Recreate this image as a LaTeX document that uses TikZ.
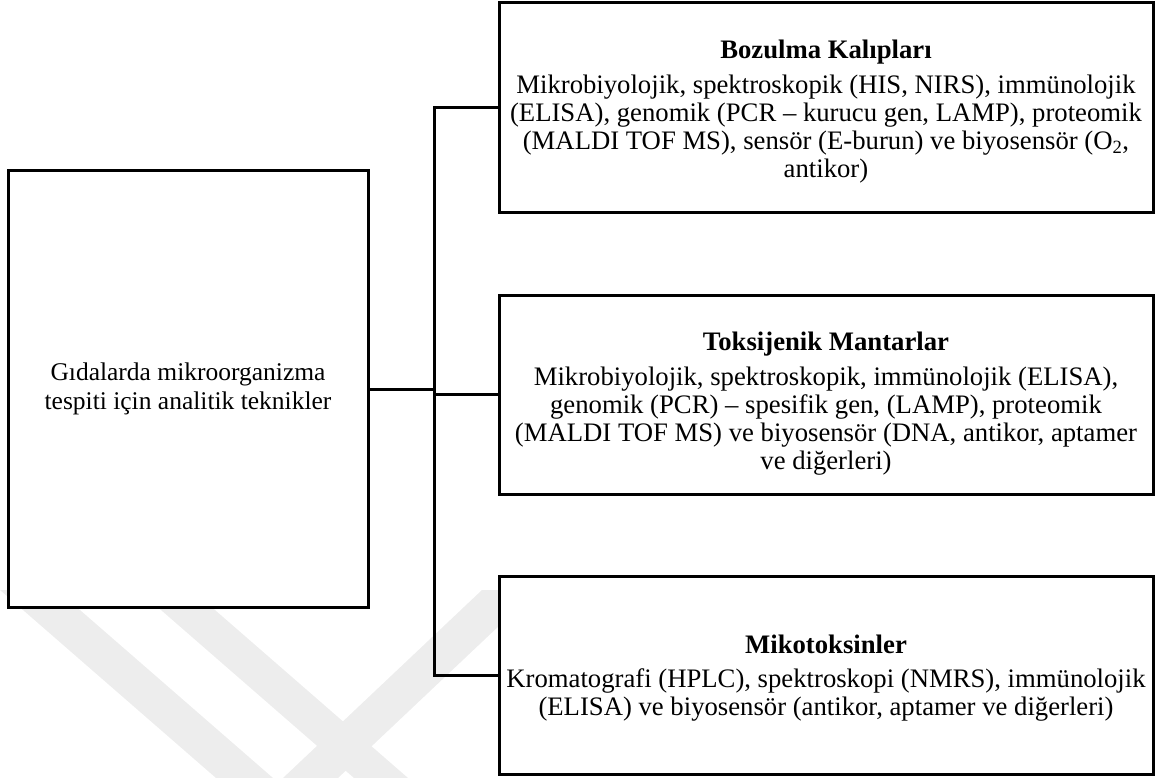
\documentclass[tikz,border=0pt]{standalone}
\usepackage{fontspec}
\setmainfont{Liberation Serif}
\begin{document}
\begin{tikzpicture}[x=1pt,y=-1pt,
  box/.style={draw=black, line width=3pt, fill=white, rectangle, inner sep=0pt},
  txt/.style={align=center, inner sep=0pt, font=\fontsize{26.7}{28}\selectfont},
  roottxt/.style={align=center, inner sep=0pt, font=\fontsize{25.5}{29}\selectfont},
  conn/.style={draw=black, line width=3pt},
  emblem/.style={fill=black!7, draw=none}]
\useasboundingbox (0,0) rectangle (1157,778);

% faint background emblem
\begin{scope}
\clip (0,0) rectangle (1157,778);
\fill[emblem] (0,590) -- (57,590) -- (273,778) -- (216,778) -- cycle;
\fill[emblem] (138,590) -- (192,590) -- (408,778) -- (354,778) -- cycle;
\fill[emblem] (482,590) -- (537,590) -- (338,778) -- (283,778) -- cycle;
\end{scope}

% boxes
\node[box, minimum width=360pt, minimum height=436pt] (root) at (188,389) {};
\node[box, minimum width=654pt, minimum height=210pt] (top) at (826,108) {};
\node[box, minimum width=654pt, minimum height=199pt] (mid) at (826,394.5) {};
\node[box, minimum width=654pt, minimum height=198pt] (bot) at (826,675) {};

% box texts
\node[roottxt] (roottext) at (root.center)
  {Gıdalarda mikroorganizma\\tespiti için analitik teknikler};

\node[txt] (toptext) at ([yshift=-4pt]top.center)
  {\textbf{Bozulma Kalıpları}\\[7pt]
   Mikrobiyolojik, spektroskopik (HIS, NIRS), immünolojik\\
   (ELISA), genomik (PCR – kurucu gen, LAMP), proteomik\\
   (MALDI TOF MS), sensör (E-burun) ve biyosensör (O\textsubscript{2},\\
   antikor)};

\node[txt] (midtext) at ([yshift=-9pt]mid.center)
  {\textbf{Toksijenik Mantarlar}\\[7pt]
   Mikrobiyolojik, spektroskopik, immünolojik (ELISA),\\
   genomik (PCR) – spesifik gen, (LAMP), proteomik\\
   (MALDI TOF MS) ve biyosensör (DNA, antikor, aptamer\\
   ve diğerleri)};

\node[txt] (bottext) at ([yshift=-3pt]bot.center)
  {\textbf{Mikotoksinler}\\[6pt]
   Kromatografi (HPLC), spektroskopi (NMRS), immünolojik\\
   (ELISA) ve biyosensör (antikor, aptamer ve diğerleri)};

% connectors
\coordinate (trunk) at (434,389);
\draw[conn] (top.west) -- (top.west -| trunk) -- (bot.west -| trunk) -- (bot.west);
\draw[conn] (root.east) -- (root.east -| trunk);
\draw[conn] (mid.west -| trunk) -- (mid.west);
\end{tikzpicture}
\end{document}
